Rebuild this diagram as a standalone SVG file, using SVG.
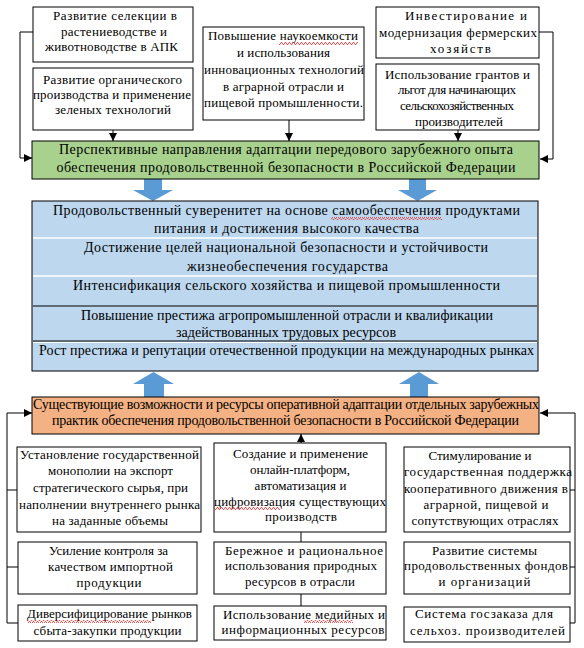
<svg xmlns="http://www.w3.org/2000/svg" width="584" height="648" viewBox="0 0 584 648">
<style>
.box{fill:#fff;stroke:#000;stroke-width:1}
.t{font-family:'Liberation Serif','Times New Roman','DejaVu Serif',serif;font-size:13px;fill:#000;text-anchor:middle}
.b{font-family:'Liberation Serif','Times New Roman','DejaVu Serif',serif;font-size:14px;fill:#000;text-anchor:middle}
.ln{fill:none;stroke:#000;stroke-width:1}
.bar{fill:#5B9BD5}
.sq{fill:url(#wavy)}
</style>
<defs>
<marker id="ah" markerUnits="userSpaceOnUse" markerWidth="8" markerHeight="8" refX="8" refY="4" orient="auto">
<path d="M0,0 L8,4 L0,8 z" fill="#000"/>
</marker>
<pattern id="wavy" patternUnits="userSpaceOnUse" width="4" height="3">
<path d="M0,2.5 L1,0.5 L2,0.5 L3,2.5 L4,2.5" fill="none" stroke="#E03030" stroke-width="0.8"/>
</pattern>
</defs>

<g id="connectors">
<polyline class="ln" points="33,32 20,32 20,158 32,158" marker-end="url(#ah)"/>
<polyline class="ln" points="539,32 553,32 553,159 540,159" marker-end="url(#ah)"/>
<line class="ln" x1="113" y1="130" x2="113" y2="141" marker-end="url(#ah)"/>
<line class="ln" x1="289" y1="120" x2="289" y2="141" marker-end="url(#ah)"/>
<line class="ln" x1="458" y1="130" x2="458" y2="141" marker-end="url(#ah)"/>
<polyline class="ln" points="7,623 7,413 32,413" marker-end="url(#ah)"/>
<line class="ln" x1="7" y1="490" x2="17" y2="490"/>
<line class="ln" x1="7" y1="567" x2="18" y2="567"/>
<line class="ln" x1="7" y1="623" x2="18" y2="623"/>
<polyline class="ln" points="575,623 575,413 540,413" marker-end="url(#ah)"/>
<line class="ln" x1="570" y1="490" x2="575" y2="490"/>
<line class="ln" x1="570" y1="567" x2="575" y2="567"/>
<line class="ln" x1="570" y1="623" x2="575" y2="623"/>
<line class="ln" x1="301" y1="443" x2="301" y2="434" marker-end="url(#ah)"/>
<line class="ln" x1="301" y1="532" x2="301" y2="542"/>
<line class="ln" x1="301" y1="594" x2="301" y2="606"/>
<polygon class="bar" points="144,179 162,179 162,190 173,190 153,201 133,190 144,190"/>
<polygon class="bar" points="409,179 426,179 426,190 437,190 417.5,201 398,190 409,190"/>
<polygon class="bar" points="144,397 164,397 164,384 174,384 153.5,372 133,384 144,384"/>
<polygon class="bar" points="410,397 428,397 428,384 439,384 419,372 399,384 410,384"/>
</g>

<g id="n1">
<rect class="box" x="33" y="7" width="160" height="55"/>
<text class="t" x="115" y="20" textLength="124">Развитие селекции в</text>
<text class="t" x="114" y="36" textLength="106">растениеводстве и</text>
<text class="t" x="111.5" y="51" textLength="133">животноводстве в АПК</text>
</g>
<g id="n2">
<rect class="box" x="33" y="68" width="160" height="62"/>
<text class="t" x="112.5" y="84" textLength="139">Развитие органического</text>
<text class="t" x="112" y="99" textLength="158">производства и применение</text>
<text class="t" x="113" y="114" textLength="116">зеленых технологий</text>
</g>
<g id="n3">
<rect class="box" x="203" y="27" width="161" height="93"/>
<text class="t" x="283" y="40" textLength="150">Повышение наукоемкости</text>
<text class="t" x="283.5" y="57" textLength="93">и использования</text>
<text class="t" x="284" y="74" textLength="160">инновационных технологий</text>
<text class="t" x="283.5" y="91" textLength="121">в аграрной отрасли и</text>
<text class="t" x="283.5" y="107" textLength="159">пищевой промышленности.</text>
<rect class="sq" x="279" y="42" width="79" height="3"/>
</g>
<g id="n4">
<rect class="box" x="376" y="7" width="163" height="51"/>
<text class="t" x="466" y="20" textLength="122">Инвестирование и</text>
<text class="t" x="458" y="37" textLength="158">модернизация фермерских</text>
<text class="t" x="460.5" y="53" textLength="61">хозяйств</text>
</g>
<g id="n5">
<rect class="box" x="376" y="64" width="163" height="66"/>
<text class="t" x="457.5" y="79" textLength="145">Использование грантов и</text>
<text class="t" x="457" y="94" textLength="118">льгот для начинающих</text>
<text class="t" x="457" y="110" textLength="114">сельскохозяйственных</text>
<text class="t" x="459" y="125.5" textLength="88">производителей</text>
</g>

<g id="n6">
<rect x="32" y="141" width="507" height="38" fill="#A9D18E" stroke="#000"/>
<text class="b" x="286" y="154" textLength="454">Перспективные направления адаптации передового зарубежного опыта</text>
<text class="b" x="286" y="172" textLength="459">обеспечения продовольственной безопасности в Российской Федерации</text>
</g>

<g id="n7">
<rect x="32" y="201" width="506" height="170" fill="#BDD7EE" stroke="#000"/>
<line x1="33" y1="238" x2="537" y2="238" stroke="#fff" stroke-width="1.5"/>
<line x1="33" y1="276" x2="537" y2="276" stroke="#fff" stroke-width="1.5"/>
<line x1="33" y1="306" x2="537" y2="306" stroke="#000" stroke-width="1"/>
<line x1="33" y1="341" x2="537" y2="341" stroke="#000" stroke-width="1"/>
<line x1="33" y1="342.5" x2="537" y2="342.5" stroke="#fff" stroke-width="1"/>
<text class="b" x="286.5" y="215" textLength="467">Продовольственный суверенитет на основе самообеспечения продуктами</text>
<text class="b" x="286.5" y="233" textLength="265">питания и достижения высокого качества</text>
<text class="b" x="286" y="252" textLength="404">Достижение целей национальной безопасности и устойчивости</text>
<text class="b" x="287.5" y="271" textLength="201">жизнеобеспечения государства</text>
<text class="b" x="286.5" y="290" textLength="427">Интенсификация сельского хозяйства и пищевой промышленности</text>
<text class="b" x="287" y="320" textLength="412">Повышение престижа агропромышленной отрасли и квалификации</text>
<text class="b" x="286" y="337" textLength="220">задействованных трудовых ресурсов</text>
<text class="b" x="286.5" y="355" textLength="495">Рост престижа и репутации отечественной продукции на международных рынках</text>
<rect class="sq" x="331" y="217" width="111" height="3"/>
</g>

<g id="n8">
<rect x="32" y="397" width="507" height="37" fill="#F4B183" stroke="#000"/>
<text class="b" x="286" y="409" textLength="506">Существующие возможности и ресурсы оперативной адаптации отдельных зарубежных</text>
<text class="b" x="285.5" y="425" textLength="467">практик обеспечения продовольственной безопасности в Российской Федерации</text>
</g>

<g id="n9">
<rect class="box" x="17" y="447" width="184" height="85"/>
<text class="t" x="109.5" y="459" textLength="179">Установление государственной</text>
<text class="t" x="110.5" y="475" textLength="125">монополии на экспорт</text>
<text class="t" x="110.5" y="492" textLength="155">стратегического сырья, при</text>
<text class="t" x="109.5" y="509" textLength="181">наполнении внутреннего рынка</text>
<text class="t" x="110" y="525" textLength="116">на заданные объемы</text>
</g>
<g id="n10">
<rect class="box" x="18" y="542" width="179" height="52"/>
<text class="t" x="108.5" y="555" textLength="119">Усиление контроля за</text>
<text class="t" x="110.5" y="571" textLength="125">качеством импортной</text>
<text class="t" x="109" y="587" textLength="65">продукции</text>
</g>
<g id="n11">
<rect class="box" x="18" y="605" width="179" height="36"/>
<text class="t" x="109.5" y="618" textLength="165">Диверсифицирование рынков</text>
<text class="t" x="107.5" y="635" textLength="148">сбыта-закупки продукции</text>
<rect class="sq" x="27" y="620" width="124" height="3"/>
</g>
<g id="n12">
<rect class="box" x="214" y="443" width="172" height="89"/>
<text class="t" x="300.5" y="458" textLength="135">Создание и применение</text>
<text class="t" x="300" y="474" textLength="100">онлайн-платформ,</text>
<text class="t" x="300.5" y="490" textLength="92">автоматизация и</text>
<text class="t" x="300" y="506" textLength="172">цифровизация существующих</text>
<text class="t" x="301" y="521" textLength="72">производств</text>
<rect class="sq" x="214" y="507" width="66" height="3"/>
</g>
<g id="n13">
<rect class="box" x="214" y="542" width="172" height="52"/>
<text class="t" x="304" y="555" textLength="158">Бережное и рациональное</text>
<text class="t" x="301" y="570" textLength="152">использования природных</text>
<text class="t" x="300" y="586" textLength="110">ресурсов в отрасли</text>
</g>
<g id="n14">
<rect class="box" x="214" y="606" width="172" height="34"/>
<text class="t" x="304" y="619" textLength="162">Использование медийных и</text>
<text class="t" x="303" y="634" textLength="163">информационных ресурсов</text>
<rect class="sq" x="304" y="620" width="49" height="3"/>
</g>
<g id="n15">
<rect class="box" x="404" y="447" width="166" height="85"/>
<text class="t" x="480" y="460" textLength="103">Стимулирование и</text>
<text class="t" x="488" y="476" textLength="168">государственная поддержка</text>
<text class="t" x="486" y="493" textLength="164">кооперативного движения в</text>
<text class="t" x="486" y="509" textLength="125">аграрной, пищевой и</text>
<text class="t" x="485" y="525" textLength="147">сопутствующих отраслях</text>
</g>
<g id="n16">
<rect class="box" x="404" y="542" width="166" height="52"/>
<text class="t" x="484.5" y="555" textLength="105">Развитие системы</text>
<text class="t" x="486" y="570" textLength="164">продовольственных фондов</text>
<text class="t" x="484.5" y="586" textLength="92">и организаций</text>
</g>
<g id="n17">
<rect class="box" x="404" y="607" width="166" height="35"/>
<text class="t" x="484" y="618" textLength="138">Система госзаказа для</text>
<text class="t" x="487.5" y="635" textLength="155">сельхоз. производителей</text>
</g>
</svg>
